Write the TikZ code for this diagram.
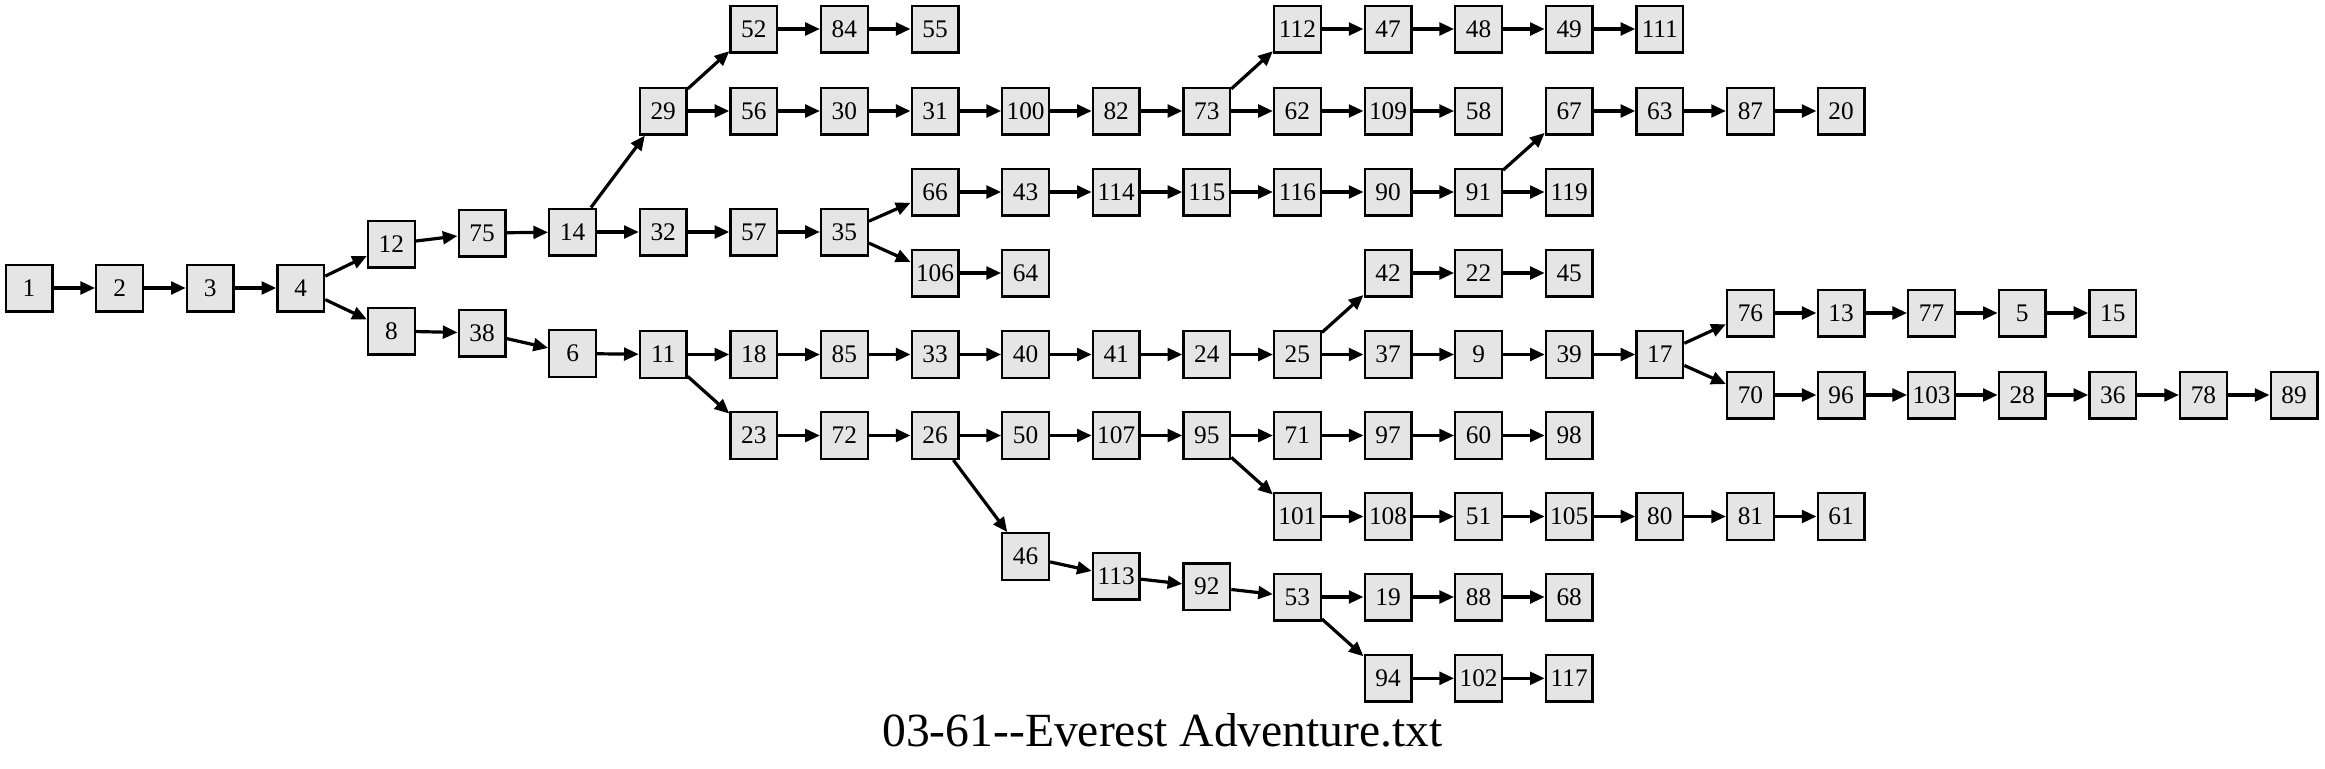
\documentclass[tikz,border=0pt]{standalone}
\usepackage{fontspec}
\setmainfont{Liberation Serif}
\usetikzlibrary{positioning,arrows.meta}

\begin{document}
\begin{tikzpicture}[x=0.75pt,y=-0.75pt,node distance=67.95pt,line width=2.4pt,
    every node/.style={draw,line width=1.75pt,fill=black!10,minimum width=35pt,minimum height=35pt,
      inner sep=0pt,font=\fontsize{19}{23}\selectfont},
    ->,>={Triangle[length=11pt,width=9.5pt]}]
    \useasboundingbox (0,0) rectangle (2325,768);
    % start
    \node(s1) at (29,288)                 {1};
    \node(s2)   [right of=s1]             {2};
    \node(s3)   [right of=s2]             {3};
    \node(s4)   [right of=s3]             {4};
    % upper half
    \node(s12) at (391.4,244)             {12};
    \node(s75) at (482,233)               {75};
    \node(s14) at (572.6,232)             {14};
    \node(s32)  [right of=s14]            {32};
    \node(s57)  [right of=s32]            {57};
    \node(s35)  [right of=s57]            {35};
    \node(s29) at (663.2,111)             {29};
    \node(s56)  [right of=s29]            {56};
    \node(s30)  [right of=s56]            {30};
    \node(s31)  [right of=s30]            {31};
    \node(s100) [right of=s31]            {100};
    \node(s82)  [right of=s100]           {82};
    \node(s73)  [right of=s82]            {73};
    \node(s62)  [right of=s73]            {62};
    \node(s109) [right of=s62]            {109};
    \node(s58)  [right of=s109]           {58};
    \node(s52) at (753.8,29)              {52};
    \node(s84)  [right of=s52]            {84};
    \node(s55)  [right of=s84]            {55};
    \node(s112) at (1297.4,29)            {112};
    \node(s47)  [right of=s112]           {47};
    \node(s48)  [right of=s47]            {48};
    \node(s49)  [right of=s48]            {49};
    \node(s111) [right of=s49]            {111};
    \node(s66) at (935,192)               {66};
    \node(s43)  [right of=s66]            {43};
    \node(s114) [right of=s43]            {114};
    \node(s115) [right of=s114]           {115};
    \node(s116) [right of=s115]           {116};
    \node(s90)  [right of=s116]           {90};
    \node(s91)  [right of=s90]            {91};
    \node(s119) [right of=s91]            {119};
    \node(s67) at (1569.2,111)            {67};
    \node(s63)  [right of=s67]            {63};
    \node(s87)  [right of=s63]            {87};
    \node(s20)  [right of=s87]            {20};
    \node(s106) at (935,273)              {106};
    \node(s64)  [right of=s106]           {64};
    % lower half
    \node(s8) at (391.4,331)              {8};
    \node(s38) at (482,333)               {38};
    \node(s6) at (572.6,353.5)            {6};
    \node(s11) at (663.2,354.5)           {11};
    \node(s18)  [right of=s11]            {18};
    \node(s85)  [right of=s18]            {85};
    \node(s33)  [right of=s85]            {33};
    \node(s40)  [right of=s33]            {40};
    \node(s41)  [right of=s40]            {41};
    \node(s24)  [right of=s41]            {24};
    \node(s25)  [right of=s24]            {25};
    \node(s37)  [right of=s25]            {37};
    \node(s9)   [right of=s37]            {9};
    \node(s39)  [right of=s9]             {39};
    \node(s17)  [right of=s39]            {17};
    \node(s42) at (1388,273)              {42};
    \node(s22)  [right of=s42]            {22};
    \node(s45)  [right of=s22]            {45};
    \node(s76) at (1750.4,313)            {76};
    \node(s13)  [right of=s76]            {13};
    \node(s77)  [right of=s13]            {77};
    \node(s5)   [right of=s77]            {5};
    \node(s15)  [right of=s5]             {15};
    \node(s70) at (1750.4,395)            {70};
    \node(s96)  [right of=s70]            {96};
    \node(s103) [right of=s96]            {103};
    \node(s28)  [right of=s103]           {28};
    \node(s36)  [right of=s28]            {36};
    \node(s78)  [right of=s36]            {78};
    \node(s89)  [right of=s78]            {89};
    \node(s23) at (753.8,435.5)           {23};
    \node(s72)  [right of=s23]            {72};
    \node(s26)  [right of=s72]            {26};
    \node(s50)  [right of=s26]            {50};
    \node(s107) [right of=s50]            {107};
    \node(s95)  [right of=s107]           {95};
    \node(s71)  [right of=s95]            {71};
    \node(s97)  [right of=s71]            {97};
    \node(s60)  [right of=s97]            {60};
    \node(s98)  [right of=s60]            {98};
    \node(s101) at (1297.4,516.5)         {101};
    \node(s108) [right of=s101]           {108};
    \node(s51)  [right of=s108]           {51};
    \node(s105) [right of=s51]            {105};
    \node(s80)  [right of=s105]           {80};
    \node(s81)  [right of=s80]            {81};
    \node(s61)  [right of=s81]            {61};
    \node(s46) at (1025.6,556.6)          {46};
    \node(s113) at (1116.2,576.3)         {113};
    \node(s92) at (1206.8,586.7)          {92};
    \node(s53) at (1297.4,597)            {53};
    \node(s19)  [right of=s53]            {19};
    \node(s88)  [right of=s19]            {88};
    \node(s68)  [right of=s88]            {68};
    \node(s94) at (1388,678.3)            {94};
    \node(s102) [right of=s94]            {102};
    \node(s117) [right of=s102]           {117};
    % title
    \node(title) [draw=none,fill=none,anchor=base,font=\fontsize{35.7}{40}\selectfont]
      at (1162.5,746) {03-61-\kern0pt-Everest Adventure.txt};
    % links
    \draw(s1)     -- (s2);
    \draw(s2)     -- (s3);
    \draw(s3)     -- (s4);
    \draw(s4)     -- (s12);
    \draw(s4)     -- (s8);
    \draw(s12)    -- (s75);
    \draw(s75)    -- (s14);
    \draw(s14)    -- (s29);
    \draw(s14)    -- (s32);
    \draw(s29)    -- (s52);
    \draw(s29)    -- (s56);
    \draw(s52)    -- (s84);
    \draw(s84)    -- (s55);
    \draw(s56)    -- (s30);
    \draw(s30)    -- (s31);
    \draw(s31)    -- (s100);
    \draw(s100)   -- (s82);
    \draw(s82)    -- (s73);
    \draw(s73)    -- (s112);
    \draw(s73)    -- (s62);
    \draw(s112)   -- (s47);
    \draw(s47)    -- (s48);
    \draw(s48)    -- (s49);
    \draw(s49)    -- (s111);
    \draw(s62)    -- (s109);
    \draw(s109)   -- (s58);
    \draw(s32)    -- (s57);
    \draw(s57)    -- (s35);
    \draw(s35)    -- (s66);
    \draw(s35)    -- (s106);
    \draw(s66)    -- (s43);
    \draw(s43)    -- (s114);
    \draw(s114)   -- (s115);
    \draw(s115)   -- (s116);
    \draw(s116)   -- (s90);
    \draw(s90)    -- (s91);
    \draw(s91)    -- (s67);
    \draw(s91)    -- (s119);
    \draw(s67)    -- (s63);
    \draw(s63)    -- (s87);
    \draw(s87)    -- (s20);
    \draw(s106)   -- (s64);
    \draw(s8)     -- (s38);
    \draw(s38)    -- (s6);
    \draw(s6)     -- (s11);
    \draw(s11)    -- (s18);
    \draw(s11)    -- (s23);
    \draw(s18)    -- (s85);
    \draw(s85)    -- (s33);
    \draw(s33)    -- (s40);
    \draw(s40)    -- (s41);
    \draw(s41)    -- (s24);
    \draw(s24)    -- (s25);
    \draw(s25)    -- (s42);
    \draw(s25)    -- (s37);
    \draw(s42)    -- (s22);
    \draw(s22)    -- (s45);
    \draw(s37)    -- (s9);
    \draw(s9)     -- (s39);
    \draw(s39)    -- (s17);
    \draw(s17)    -- (s76);
    \draw(s17)    -- (s70);
    \draw(s76)    -- (s13);
    \draw(s13)    -- (s77);
    \draw(s77)    -- (s5);
    \draw(s5)     -- (s15);
    \draw(s70)    -- (s96);
    \draw(s96)    -- (s103);
    \draw(s103)   -- (s28);
    \draw(s28)    -- (s36);
    \draw(s36)    -- (s78);
    \draw(s78)    -- (s89);
    \draw(s23)    -- (s72);
    \draw(s72)    -- (s26);
    \draw(s26)    -- (s50);
    \draw(s26)    -- (s46);
    \draw(s50)    -- (s107);
    \draw(s107)   -- (s95);
    \draw(s95)    -- (s71);
    \draw(s95)    -- (s101);
    \draw(s71)    -- (s97);
    \draw(s97)    -- (s60);
    \draw(s60)    -- (s98);
    \draw(s101)   -- (s108);
    \draw(s108)   -- (s51);
    \draw(s51)    -- (s105);
    \draw(s105)   -- (s80);
    \draw(s80)    -- (s81);
    \draw(s81)    -- (s61);
    \draw(s46)    -- (s113);
    \draw(s113)   -- (s92);
    \draw(s92)    -- (s53);
    \draw(s53)    -- (s19);
    \draw(s53)    -- (s94);
    \draw(s19)    -- (s88);
    \draw(s88)    -- (s68);
    \draw(s94)    -- (s102);
    \draw(s102)   -- (s117);
\end{tikzpicture}
\end{document}
